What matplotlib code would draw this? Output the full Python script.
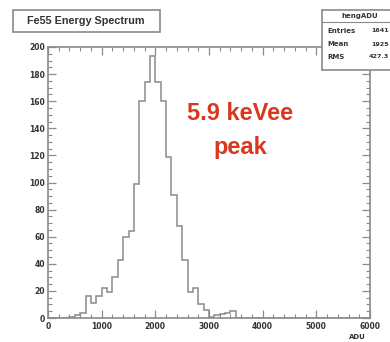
import matplotlib
matplotlib.use("Agg")
import matplotlib.pyplot as plt
from matplotlib.patches import Rectangle
import numpy as np

# ---- data ----
bin_edges = list(range(0, 6100, 100))
counts = [0, 0, 0, 0, 1, 2, 4, 16, 11, 16,
          22, 19, 30, 43, 60, 64, 99, 160, 174, 193,
          174, 160, 119, 91, 68, 43, 19, 22, 10, 6,
          1, 2, 3, 4, 5, 0, 0, 0, 0, 0,
          0, 0, 0, 0, 0, 0, 0, 0, 0, 0,
          0, 0, 0, 0, 0, 0, 0, 0, 0, 0]
x_ticks = [0, 1000, 2000, 3000, 4000, 5000, 6000]
y_ticks = [0, 20, 40, 60, 80, 100, 120, 140, 160, 180, 200]
title_text = "Fe55 Energy Spectrum"
stats_name = "hengADU"
stats_labels = ["Entries", "Mean", "RMS"]
stats_values = ["1641", "1925", "427.3"]
annot_lines = ["5.9 keVee", "peak"]
x_label = "ADU"

W, H = 390, 342
fig = plt.figure(figsize=(W / 100, H / 100), dpi=100)
fig.patch.set_facecolor("white")

gray = "#8a8a8a"
txt = "#333333"
ax = fig.add_axes([48 / W, 1 - 318 / H, (370 - 48) / W, (318 - 47) / H])
ax.stairs(counts, bin_edges, color=gray, linewidth=1.1)
ax.set_xlim(0, 6000)
ax.set_ylim(0, 200)
ax.set_xticks(x_ticks)
ax.set_yticks(y_ticks)
ax.set_xticks(np.arange(0, 6001, 200), minor=True)
ax.set_yticks(np.arange(0, 201, 5), minor=True)
ax.tick_params(axis="both", which="both", direction="in", top=True, right=True,
               color=gray, labelsize=5.5, labelcolor=txt)
ax.tick_params(which="major", length=6, width=0.9)
ax.tick_params(which="minor", length=3, width=0.8)
ax.tick_params(axis="x", pad=3)
ax.tick_params(axis="y", pad=2)
for lab in ax.get_xticklabels() + ax.get_yticklabels():
    lab.set_fontweight("bold")
for s in ax.spines.values():
    s.set_color(gray)
    s.set_linewidth(1.2)

# annotation
ax.text(0.596, 0.753, annot_lines[0], transform=ax.transAxes, ha="center", va="center",
        color="#d9381e", fontsize=17, fontweight="bold", family="Liberation Sans")
ax.text(0.596, 0.630, annot_lines[1], transform=ax.transAxes, ha="center", va="center",
        color="#d9381e", fontsize=17, fontweight="bold", family="Liberation Sans")

# title box
fig.patches.append(Rectangle((13 / W, 1 - 32 / H), (160 - 13) / W, 22 / H,
                             transform=fig.transFigure, facecolor="white",
                             edgecolor=gray, linewidth=1.2))
fig.text(86 / W, 1 - 21 / H, title_text, ha="center", va="center",
         fontsize=7.8, color=txt, family="Liberation Sans", fontweight="bold",
         fontstretch="condensed")

# stats box
fig.patches.append(Rectangle((322 / W, 1 - 70 / H), 80 / W, 60 / H,
                             transform=fig.transFigure, facecolor="white",
                             edgecolor=gray, linewidth=1.2))
fig.lines.append(plt.Line2D([322 / W, 1], [1 - 22 / H, 1 - 22 / H],
                            transform=fig.transFigure, color=gray, linewidth=0.8))
fig.text(360 / W, 1 - 16 / H, stats_name, ha="center", va="center",
         fontsize=5, color=txt, fontweight="bold")
for i, (lab, val) in enumerate(zip(stats_labels, stats_values)):
    yy = 1 - (31 + 13 * i) / H
    fig.text(327 / W, yy, lab, ha="left", va="center", fontsize=5, color=txt,
             fontweight="bold")
    fig.text(389 / W, yy, val, ha="right", va="center", fontsize=4.6, color=txt,
             fontweight="bold")

# x label
fig.text(357 / W, 1 - 337 / H, x_label, ha="center", va="center",
         fontsize=5, color=txt, fontweight="bold")

fig.savefig("out.png", dpi=100, facecolor="white")
